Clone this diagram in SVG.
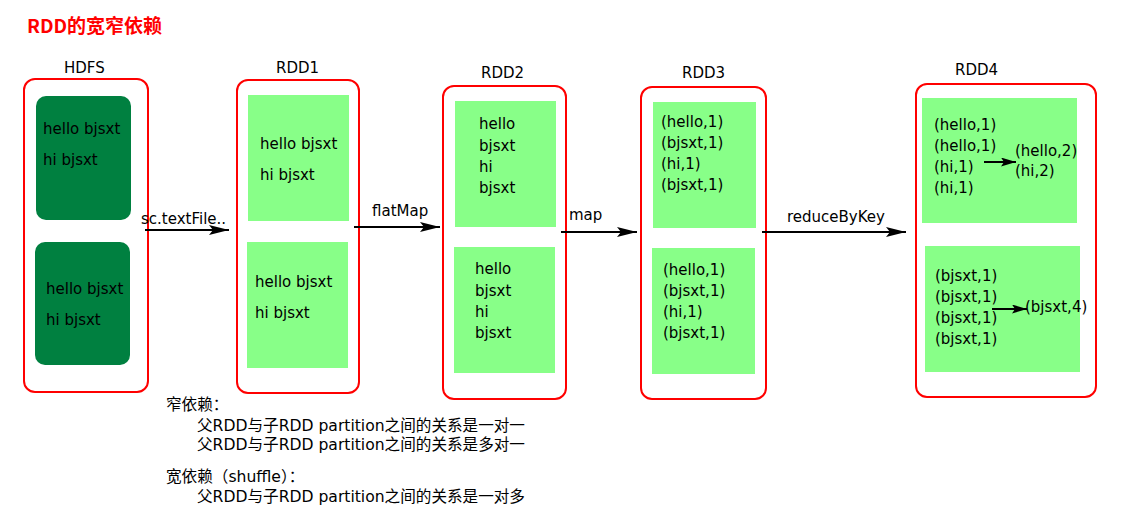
<svg xmlns="http://www.w3.org/2000/svg" width="1129" height="526" viewBox="0 0 1129 526">
<defs>
<style>
.t{font-family:"DejaVu Sans","Noto Sans CJK SC",sans-serif;font-size:15px;fill:#000}
.n{font-family:"DejaVu Sans","Noto Sans CJK SC",sans-serif;font-size:15.6px;fill:#000}
.title{font-family:"Noto Sans CJK SC",sans-serif;font-size:19px;font-weight:bold;fill:#ff0000}
.outer{fill:#fff;stroke:#ff0000;stroke-width:2}
.dk{fill:#008040}
.lt{fill:#88ff88}
.conn{stroke:#000;stroke-width:2;fill:none}
.conn2{stroke:#000;stroke-width:2;fill:none}
</style>
<marker id="ah" viewBox="0 0 20 10" refX="20" refY="5" markerWidth="20" markerHeight="10" markerUnits="userSpaceOnUse" orient="auto">
<path d="M0,0 L20,5 L0,10 L4,5 Z" fill="#000"/>
</marker>
<marker id="ahs" viewBox="0 0 15 9" refX="15" refY="4.5" markerWidth="15" markerHeight="9" markerUnits="userSpaceOnUse" orient="auto">
<path d="M0,0 L15,4.5 L0,9 L3,4.5 Z" fill="#000"/>
</marker>
</defs>
<rect width="1129" height="526" fill="#fff"/>
<text class="title" x="27" y="33">RDD的宽窄依赖</text>

<g id="hdfs">
<text class="t" x="64" y="73">HDFS</text>
<rect class="outer" x="24" y="79" width="124" height="313" rx="11"/>
<rect class="dk" x="36" y="96" width="95" height="124" rx="10"/>
<text class="t" x="43" y="134">hello bjsxt</text>
<text class="t" x="43" y="165">hi bjsxt</text>
<rect class="dk" x="35" y="242" width="95" height="123" rx="10"/>
<text class="t" x="46" y="294">hello bjsxt</text>
<text class="t" x="46" y="325">hi bjsxt</text>
</g>

<g id="rdd1">
<text class="t" x="276" y="73">RDD1</text>
<rect class="outer" x="237" y="80" width="122" height="313" rx="11"/>
<rect class="lt" x="248" y="95" width="101" height="126"/>
<text class="t" x="260" y="149">hello bjsxt</text>
<text class="t" x="260" y="180">hi bjsxt</text>
<rect class="lt" x="247" y="242" width="101" height="126"/>
<text class="t" x="255" y="287">hello bjsxt</text>
<text class="t" x="255" y="318">hi bjsxt</text>
</g>

<g id="rdd2">
<text class="t" x="481" y="78">RDD2</text>
<rect class="outer" x="443" y="86" width="123" height="313" rx="11"/>
<rect class="lt" x="455" y="101" width="101" height="126"/>
<text class="t" x="479" y="129">hello</text>
<text class="t" x="479" y="151">bjsxt</text>
<text class="t" x="479" y="172">hi</text>
<text class="t" x="479" y="193">bjsxt</text>
<rect class="lt" x="454" y="247" width="101" height="126"/>
<text class="t" x="475" y="274">hello</text>
<text class="t" x="475" y="296">bjsxt</text>
<text class="t" x="475" y="317">hi</text>
<text class="t" x="475" y="338">bjsxt</text>
</g>

<g id="rdd3">
<text class="t" x="682" y="78">RDD3</text>
<rect class="outer" x="641" y="87" width="125" height="312" rx="11"/>
<rect class="lt" x="653" y="102" width="103" height="126"/>
<text class="t" x="661" y="127">(hello,1)</text>
<text class="t" x="661" y="148">(bjsxt,1)</text>
<text class="t" x="661" y="169">(hi,1)</text>
<text class="t" x="661" y="190">(bjsxt,1)</text>
<rect class="lt" x="652" y="248" width="103" height="126"/>
<text class="t" x="663" y="275">(hello,1)</text>
<text class="t" x="663" y="296">(bjsxt,1)</text>
<text class="t" x="663" y="317">(hi,1)</text>
<text class="t" x="663" y="338">(bjsxt,1)</text>
</g>

<g id="rdd4">
<text class="t" x="955" y="75">RDD4</text>
<rect class="outer" x="916" y="84" width="180" height="313" rx="11"/>
<rect class="lt" x="922" y="98" width="155" height="125"/>
<text class="t" x="934" y="130">(hello,1)</text>
<text class="t" x="934" y="151">(hello,1)</text>
<text class="t" x="934" y="172">(hi,1)</text>
<text class="t" x="934" y="193">(hi,1)</text>
<line class="conn2" x1="984" y1="162" x2="1016" y2="162" marker-end="url(#ahs)"/>
<text class="t" x="1015" y="156">(hello,2)</text>
<text class="t" x="1015" y="176">(hi,2)</text>
<rect class="lt" x="925" y="246" width="155" height="126"/>
<text class="t" x="935" y="281">(bjsxt,1)</text>
<text class="t" x="935" y="302">(bjsxt,1)</text>
<text class="t" x="935" y="323">(bjsxt,1)</text>
<text class="t" x="935" y="344">(bjsxt,1)</text>
<line class="conn2" x1="992" y1="309" x2="1027" y2="309" marker-end="url(#ahs)"/>
<text class="t" x="1025" y="312">(bjsxt,4)</text>
</g>

<g id="connectors">
<line class="conn" x1="145" y1="230" x2="229" y2="230" marker-end="url(#ah)"/>
<text class="t" x="141" y="224">sc.textFile..</text>
<line class="conn" x1="354" y1="227" x2="440" y2="227" marker-end="url(#ah)"/>
<text class="t" x="372" y="216">flatMap</text>
<line class="conn" x1="561" y1="232" x2="637" y2="232" marker-end="url(#ah)"/>
<text class="t" x="569" y="220">map</text>
<line class="conn" x1="762" y1="232" x2="906" y2="232" marker-end="url(#ah)"/>
<text class="t" x="787" y="222">reduceByKey</text>
</g>

<g id="notes">
<text class="n" x="166" y="410">窄依赖：</text>
<text class="n" x="197" y="431">父RDD与子RDD partition之间的关系是一对一</text>
<text class="n" x="197" y="450">父RDD与子RDD partition之间的关系是多对一</text>
<text class="n" x="166" y="482">宽依赖（shuffle）：</text>
<text class="n" x="197" y="502">父RDD与子RDD partition之间的关系是一对多</text>
</g>
</svg>
